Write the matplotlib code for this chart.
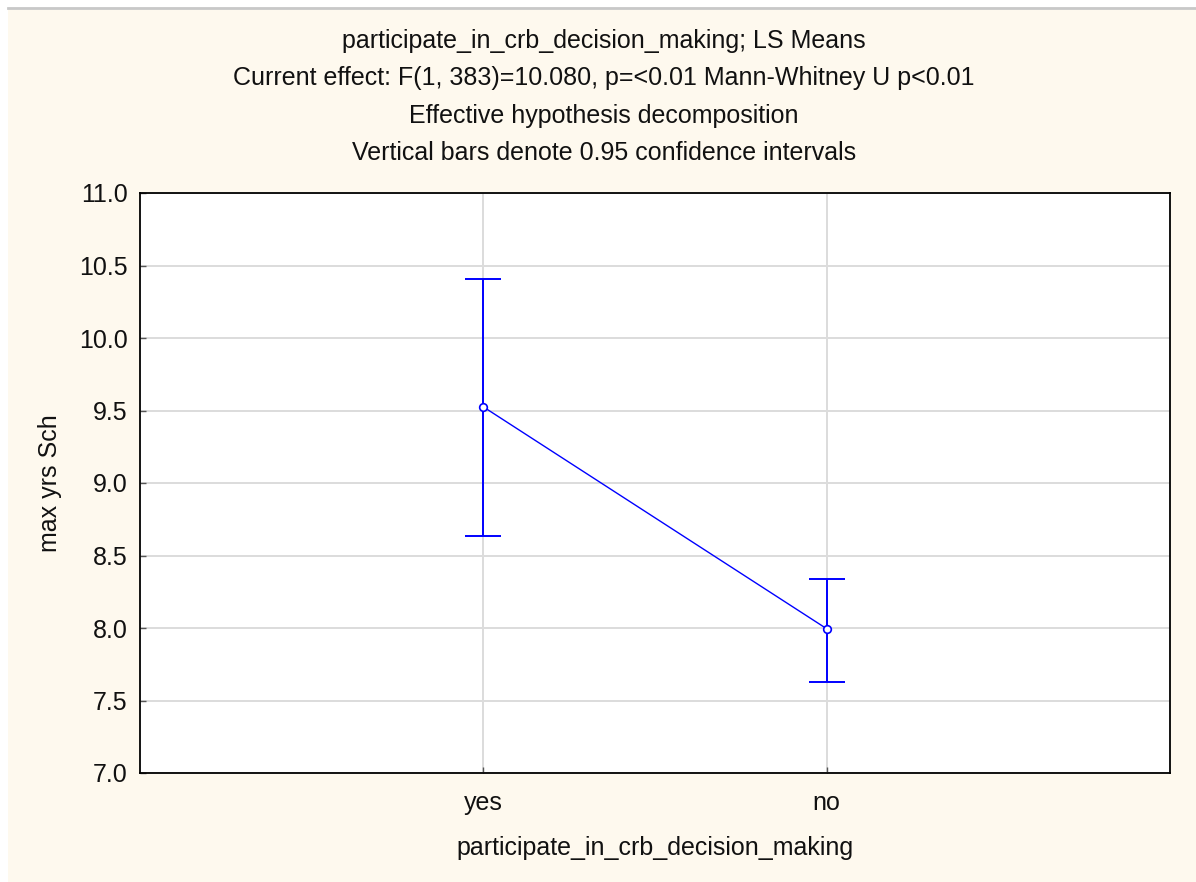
import matplotlib
matplotlib.use("Agg")
import matplotlib.pyplot as plt
from matplotlib.patches import Rectangle
from matplotlib.lines import Line2D

# LS means with 0.95 confidence limits
categories = ["yes", "no"]
means = [9.525, 7.995]
ci_lower = [8.635, 7.630]
ci_upper = [10.405, 8.340]

yticks = [7.0, 7.5, 8.0, 8.5, 9.0, 9.5, 10.0, 10.5, 11.0]

title_lines = [
    "participate_in_crb_decision_making; LS Means",
    "Current effect: F(1, 383)=10.080, p=<0.01 Mann-Whitney U p<0.01",
    "Effective hypothesis decomposition",
    "Vertical bars denote 0.95 confidence intervals",
]

plt.rcParams["font.family"] = ["Liberation Sans", "DejaVu Sans"]

W, H = 1196, 882
FS = 18
TXT = "#111111"
fig = plt.figure(figsize=(W / 100, H / 100), dpi=100, facecolor="white")

# cream panel with a thin grey rule along the top
fig.patches.append(Rectangle((8 / W, 0), 1 - 8 / W, 1 - 9 / H,
                             transform=fig.transFigure, facecolor="#FEF9EE",
                             edgecolor="none", zorder=-10))
fig.lines.append(Line2D([8 / W, 1], [1 - 7.5 / H, 1 - 7.5 / H],
                        transform=fig.transFigure, color="#C8C8C8", lw=2,
                        zorder=-9))

ax = fig.add_axes([140 / W, 1 - 773 / H, 1030 / W, 580 / H])
ax.set_facecolor("white")

x = list(range(1, len(categories) + 1))
err_lo = [m - l for m, l in zip(means, ci_lower)]
err_hi = [u - m for m, u in zip(means, ci_upper)]

ax.plot(x, means, color="#0000FF", lw=1.0, zorder=3)
ax.errorbar(x, means, yerr=[err_lo, err_hi], fmt="none", ecolor="#0000FF",
            elinewidth=1.4, capsize=13, capthick=1.4, zorder=3)
ax.plot(x, means, linestyle="none", marker="o", markersize=5.5,
        markerfacecolor="white", markeredgecolor="#0000FF",
        markeredgewidth=1.2, zorder=4)

ax.set_xlim(0, len(categories) + 1)
ax.set_ylim(7.0, 11.0)
ax.set_xticks(x)
ax.set_xticklabels(categories)
ax.set_yticks(yticks)
ax.set_yticklabels([f"{v:.1f}" for v in yticks])

ax.grid(True, color="#DCDCDC", lw=1.4, zorder=1)
ax.set_axisbelow(True)
for s in ax.spines.values():
    s.set_color("black")
    s.set_linewidth(1.3)

ax.tick_params(axis="both", direction="in", length=4, width=1,
               color="#555555", labelsize=FS, labelcolor=TXT)
ax.tick_params(axis="x", pad=13)
ax.tick_params(axis="y", pad=9)

ax.set_xlabel("participate_in_crb_decision_making", fontsize=FS,
              color=TXT, labelpad=15)
ax.set_ylabel("max yrs Sch", fontsize=FS, color=TXT, labelpad=12)

for i, line in enumerate(title_lines):
    fig.text(604 / W, 1 - (41 + 37.5 * i) / H, line, ha="center", va="center",
             fontsize=FS, color=TXT)

fig.savefig("out.png", dpi=100, facecolor=fig.get_facecolor())
